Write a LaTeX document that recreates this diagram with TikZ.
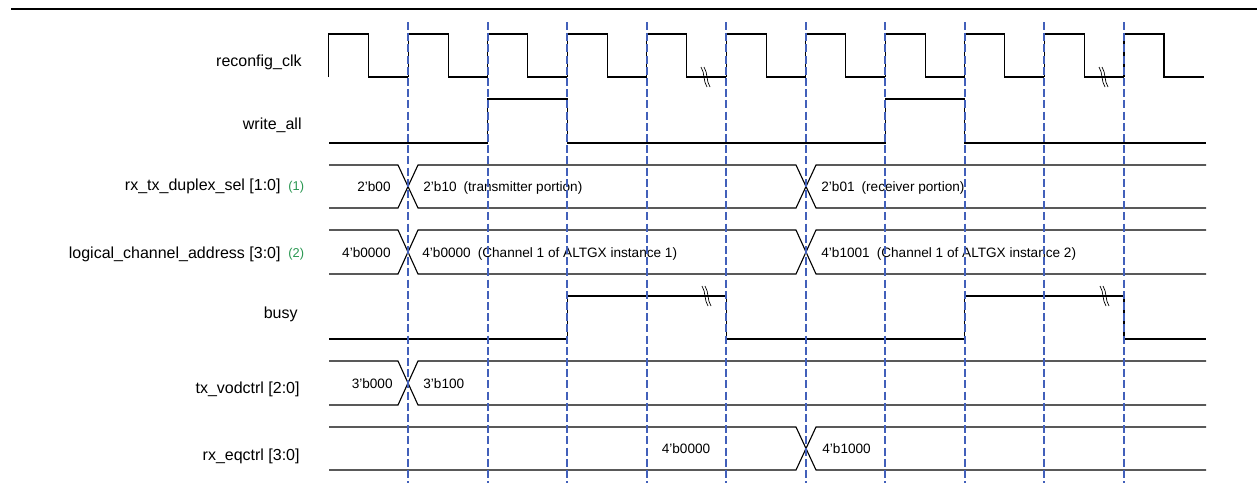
\documentclass[tikz,border=0pt]{standalone}
\usepackage{fontspec}
\setmainfont{Liberation Sans}
\definecolor{dashblue}{RGB}{66,96,186}
\definecolor{notegreen}{RGB}{40,150,80}
\begin{document}
\begin{tikzpicture}[x=0.5pt,y=-0.5pt,
  sig/.style={line width=0.55pt,black},
  gridline/.style={dashblue,line width=1pt,dash pattern=on 4pt off 1.6pt},
  lab/.style={font=\fontsize{8}{9.6}\selectfont,inner sep=0pt,anchor=base east},
  val/.style={font=\fontsize{6.8}{8}\selectfont,inner sep=0pt},
  notelab/.style={font=\fontsize{6.4}{8}\selectfont,text=notegreen,inner sep=0pt,anchor=base west},
  brk/.style={line width=0.35pt,black},
  breakmark/.pic={
    \draw[brk] (-5,-10) .. controls (-1,-4) and (-3,4) .. (1,10);
    \draw[brk] (-2,-10) .. controls (2,-4) and (0,4) .. (4,10);
  }]
\useasboundingbox (0,0) rectangle (1257,483);
% top rule
\draw[line width=1.35pt] (11,9) -- (1257,9);

% signal names
\node[lab] (nclk) at (302,66) {reconfig\_clk};
\node[lab] (nwr) at (302,129) {write\_all};
\node[lab] (nsel) at (281,190.5) {rx\_tx\_duplex\_sel [1:0]};
\node[notelab] (n1) at (288,190) {(1)};
\node[lab] (nadr) at (281,258) {logical\_channel\_address [3:0]};
\node[notelab] (n2) at (288,257.5) {(2)};
\node[lab] (nbusy) at (298,318) {busy};
\node[lab] (nvod) at (300,393) {tx\_vodctrl [2:0]};
\node[lab] (neq) at (300,460) {rx\_eqctrl [3:0]};

% reconfig_clk
\foreach \k in {0,...,10}{
  \pgfmathsetmacro{\xa}{328.5+79.55*\k}
  \draw[sig] (\xa,77) -- (\xa,34) -- (\xa+40,34) -- (\xa+40,77) -- (\xa+79.55,77);
}
\pic at (706,77) {breakmark};
\pic at (1104,77) {breakmark};

% write_all
\draw[sig] (329,143) -- (487.55,143) -- (487.55,99) -- (567.1,99) -- (567.1,143)
  -- (885.3,143) -- (885.3,99) -- (964.85,99) -- (964.85,143) -- (1206,143);

% rx_tx_duplex_sel
\draw[sig] (329,165) -- (398,165) -- (418,208) -- (796,208) -- (816,165) -- (1206,165);
\draw[sig] (329,208) -- (398,208) -- (418,165) -- (796,165) -- (816,208) -- (1206,208);
\node[val,anchor=base east] (s0) at (391,191) {2'b00};
\node[val,anchor=base west] (s1) at (423,191) {2'b10\hspace{3.5pt}(transmitter portion)};
\node[val,anchor=base west] (s2) at (821,191) {2'b01\hspace{3.5pt}(receiver portion)};

% logical_channel_address
\draw[sig] (329,230) -- (398,230) -- (418,274) -- (796,274) -- (816,230) -- (1206,230);
\draw[sig] (329,274) -- (398,274) -- (418,230) -- (796,230) -- (816,274) -- (1206,274);
\node[val,anchor=base east] (a0) at (391,257) {4'b0000};
\node[val,anchor=base west] (a1) at (422,257) {4'b0000\hspace{3.5pt}(Channel 1 of ALTGX instance 1)};
\node[val,anchor=base west] (a2) at (821,257) {4'b1001\hspace{3.5pt}(Channel 1 of ALTGX instance 2)};

% busy
\draw[sig] (329,339) -- (567.1,339) -- (567.1,296) -- (726.2,296) -- (726.2,339)
  -- (964.85,339) -- (964.85,296) -- (1123.95,296) -- (1123.95,339) -- (1206,339);
\pic at (707,296) {breakmark};
\pic at (1105,296) {breakmark};

% tx_vodctrl
\draw[sig] (329,361) -- (398,361) -- (418,405) -- (1206,405);
\draw[sig] (329,405) -- (398,405) -- (418,361) -- (1206,361);
\node[val,anchor=base east] (v0) at (393,388) {3'b000};
\node[val,anchor=base west] (v1) at (423,388) {3'b100};

% rx_eqctrl
\draw[sig] (329,427) -- (796,427) -- (816,470) -- (1206,470);
\draw[sig] (329,470) -- (796,470) -- (816,427) -- (1206,427);
\node[val,anchor=base] (e0) at (686,453) {4'b0000};
\node[val,anchor=base west] (e1) at (822,453) {4'b1000};

% dashed clock-edge markers
\foreach \k in {0,...,9}{
  \pgfmathsetmacro{\xa}{408+79.55*\k}
  \draw[gridline] (\xa,22) -- (\xa,483);
}
\end{tikzpicture}
\end{document}
